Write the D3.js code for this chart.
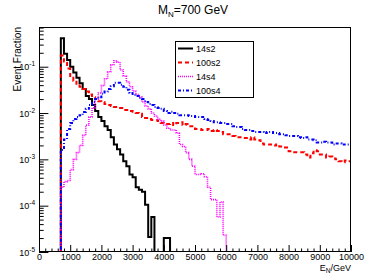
<!DOCTYPE html>
<html><head><meta charset="utf-8">
<script src="https://cdn.jsdelivr.net/npm/d3@7/dist/d3.min.js"></script>
<style>body{margin:0;background:#fff}svg{display:block}text{font-family:"Liberation Sans",Arial,sans-serif}</style>
</head><body><svg id="c" width="390" height="280"></svg>
<script>
// ---- data (bin width 100 GeV, first filled bin starts at 700 GeV) ----
const binWidth = 100;
const firstBin = 700;
const xMax = 10000;
const seriesNames = ["14s2", "100s2", "14s4", "100s4"];
const v14s2 = [0.41,0.19,0.14,0.10,0.075,0.058,0.044,0.033,0.0234,0.020,
  0.0149,0.011,0.0082,0.0067,0.0052,0.0043,0.0030,0.0021,0.00165,0.00128,
  0.00091,0.00071,0.00047,0.00041,0.00025,0.00022,0.0002,0.000105,0.000021,0.000057,
  0,0,0,0.00002,0.00002];
const v100s2 = [0.174,0.129,0.091,0.063,0.050,0.043,0.037,0.033,0.029,0.025,
  0.022,0.020,0.018,0.0174,0.0157,0.015,0.0142,0.0135,0.0135,0.0129,
  0.0117,0.0117,0.0110,0.0106,0.010,0.0096,0.0082,0.0078,0.0074,0.0071,
  0.0071,0.0067,0.0061,0.0058,0.0058,0.0061,0.0055,0.0061,0.0063,0.0055,
  0.0058,0.0052,0.0052,0.0045,0.0045,0.0043,0.0043,0.0045,0.0041,0.0043,
  0.0041,0.0039,0.0035,0.0035,0.0035,0.0032,0.0030,0.0030,0.0029,0.0029,
  0.0027,0.0030,0.0027,0.0026,0.0022,0.0021,0.0021,0.0021,0.0020,0.0021,
  0.0019,0.0018,0.0018,0.0015,0.00142,0.00142,0.00142,0.00142,0.00128,0.0011,
  0.00135,0.00157,0.0015,0.00128,0.00128,0.0011,0.00115,0.00105,0.0010,0.00091,
  0.00087,0.00095,0.00091];
const v14s4 = [2.5e-4,3.3e-4,3.5e-4,6.0e-4,1.0e-3,1.4e-3,2.0e-3,3.3e-3,5.5e-3,8.2e-3,
  0.0129,0.020,0.027,0.039,0.055,0.078,0.11,0.135,0.125,0.085,
  0.063,0.047,0.037,0.030,0.025,0.022,0.0174,0.0142,0.0123,0.010,
  0.0086,0.0074,0.0067,0.0055,0.0047,0.0043,0.0043,0.0037,0.0021,0.0019,
  0.0014,0.0010,7.1e-4,4.7e-4,4.7e-4,4.9e-4,4.2e-4,2.5e-4,1.35e-4,1.35e-4,
  5.7e-5,1.2e-4,2.3e-5];
const v100s4 = [0.0016,0.0027,0.0045,0.0061,0.0074,0.0082,0.0090,0.0105,0.0123,0.0149,
  0.0174,0.020,0.022,0.026,0.029,0.033,0.038,0.045,0.045,0.041,
  0.037,0.032,0.027,0.0245,0.0234,0.021,0.020,0.0174,0.0157,0.0149,
  0.0135,0.0129,0.0123,0.0110,0.010,0.0106,0.010,0.0096,0.0090,0.0090,
  0.0090,0.0086,0.0086,0.0082,0.0082,0.0082,0.0074,0.0071,0.0067,0.0063,
  0.0063,0.0061,0.0061,0.0058,0.0058,0.0052,0.0050,0.0050,0.0045,0.0043,
  0.0043,0.0041,0.0039,0.0039,0.0039,0.0037,0.0039,0.0039,0.0037,0.0037,
  0.0035,0.0035,0.0033,0.0032,0.0032,0.0032,0.0030,0.0029,0.0030,0.0027,
  0.0027,0.0026,0.0023,0.0023,0.0024,0.0023,0.0023,0.0021,0.0022,0.0022,
  0.0021,0.0021,0.0021];
const xTickLabels = [0,1000,2000,3000,4000,5000,6000,7000,8000,9000,10000];
const yTickExponents = [-5,-4,-3,-2,-1];
const yMin = 1e-5, yMax = 0.72;

// ---- layout ----
const L = 39, R = 351, T = 27, B = 252;
const svg = d3.select("#c");
svg.append("rect").attr("width",390).attr("height",280).attr("fill","#fff");
const x = d3.scaleLinear().domain([0, xMax]).range([L, R]);
const y = d3.scaleLog().domain([yMin, yMax]).range([B, T]);

const styles = [
  {color:"#000000", w:2, dash:null},
  {color:"#ff0000", w:2, dash:"4,3"},
  {color:"#ff00ff", w:1.6, dash:"1,1"},
  {color:"#0000ff", w:2, dash:"3,2,1,2"}
];
const allVals = [v14s2, v100s2, v14s4, v100s4];

svg.append("defs").append("clipPath").attr("id","clip")
  .append("rect").attr("x",L).attr("y",T-1).attr("width",R-L).attr("height",B-T+1);

function stepPoints(vals){
  const pts = [];
  for (let lo = 0; lo < xMax; lo += binWidth){
    const k = Math.round((lo - firstBin)/binWidth);
    let v = (k >= 0 && k < vals.length) ? vals[k] : 0;
    v = Math.max(v, yMin);
    pts.push([lo, v], [lo + binWidth, v]);
  }
  return pts;
}
const line = d3.line().x(d => x(d[0])).y(d => y(d[1]));
const g = svg.append("g").attr("clip-path","url(#clip)");
allVals.forEach((vals,i) => {
  const s = styles[i];
  g.append("path").attr("d", line(stepPoints(vals)))
    .attr("fill","none").attr("stroke",s.color).attr("stroke-width",s.w)
    .attr("stroke-dasharray",s.dash);
});

// ---- frame ----
svg.append("rect").attr("x",L+0.5).attr("y",T+0.5).attr("width",R-L-1).attr("height",B-T-1)
  .attr("fill","none").attr("stroke","#000").attr("stroke-width",1);

// ---- x axis ----
const xMajor = d3.axisBottom(x).tickValues(xTickLabels).tickSizeInner(-7).tickSizeOuter(0)
  .tickPadding(2).tickFormat(d3.format("d"));
const gx = svg.append("g").attr("transform",`translate(0,${B})`).call(xMajor);
gx.select(".domain").remove();
gx.selectAll("text").attr("font-size",9).attr("font-family","Liberation Sans, Arial").attr("fill","#000");
const xMinorVals = d3.range(0, xMax+1, 200).filter(v => v % 1000 !== 0);
const gxm = svg.append("g").attr("transform",`translate(0,${B})`)
  .call(d3.axisBottom(x).tickValues(xMinorVals).tickSizeInner(-3.5).tickSizeOuter(0).tickFormat(""));
gxm.select(".domain").remove();

// ---- y axis ----
const yMajorVals = yTickExponents.map(e => Math.pow(10,e));
const gy = svg.append("g").attr("transform",`translate(${L},0)`)
  .call(d3.axisLeft(y).tickValues(yMajorVals).tickSizeInner(-9.4).tickSizeOuter(0).tickFormat(""));
gy.select(".domain").remove();
const yMinorVals = [];
yTickExponents.forEach(e => { for (let k=2;k<=9;k++){ const v=k*Math.pow(10,e); if (v<=yMax) yMinorVals.push(v);} });
const gym = svg.append("g").attr("transform",`translate(${L},0)`)
  .call(d3.axisLeft(y).tickValues(yMinorVals).tickSizeInner(-4.7).tickSizeOuter(0).tickFormat(""));
gym.select(".domain").remove();
yTickExponents.forEach(e => {
  const t = svg.append("text").attr("x",35).attr("y",y(Math.pow(10,e))+3.5)
    .attr("text-anchor","end").attr("font-size",9).attr("fill","#000");
  t.append("tspan").text("10");
  t.append("tspan").attr("dy",-4).attr("font-size",6.5).text(String(e));
});

// ---- titles ----
const title = svg.append("text").attr("x",193).attr("y",14).attr("text-anchor","middle")
  .attr("font-size",12).attr("fill","#000");
title.append("tspan").text("M");
title.append("tspan").attr("dy",2.5).attr("font-size",8).text("N");
title.append("tspan").attr("dy",-2.5).text("=700 GeV");

const xt = svg.append("text").attr("x",R).attr("y",270.5).attr("text-anchor","end")
  .attr("font-size",9).attr("fill","#000");
xt.append("tspan").text("E");
xt.append("tspan").attr("dy",2).attr("font-size",6.5).text("N");
xt.append("tspan").attr("dy",-2).text("/GeV");

svg.append("text").attr("transform",`translate(21,${T}) rotate(-90)`).attr("text-anchor","end")
  .attr("font-size",10).attr("fill","#000").text("Event Fraction");

// ---- legend ----
const lg = svg.append("g");
lg.append("rect").attr("x",175.5).attr("y",41.5).attr("width",78).attr("height",56)
  .attr("fill","#fff").attr("stroke","#000").attr("stroke-width",1);
const legY = [48.5, 62.5, 76.5, 90.5];
seriesNames.forEach((n,i) => {
  const s = styles[i];
  lg.append("line").attr("x1",178).attr("x2",193).attr("y1",legY[i]).attr("y2",legY[i])
    .attr("stroke",s.color).attr("stroke-width",s.w).attr("stroke-dasharray",s.dash);
  lg.append("text").attr("x",196).attr("y",legY[i]+3.2).attr("font-size",9).attr("fill","#000").text(n);
});
</script></body></html>
